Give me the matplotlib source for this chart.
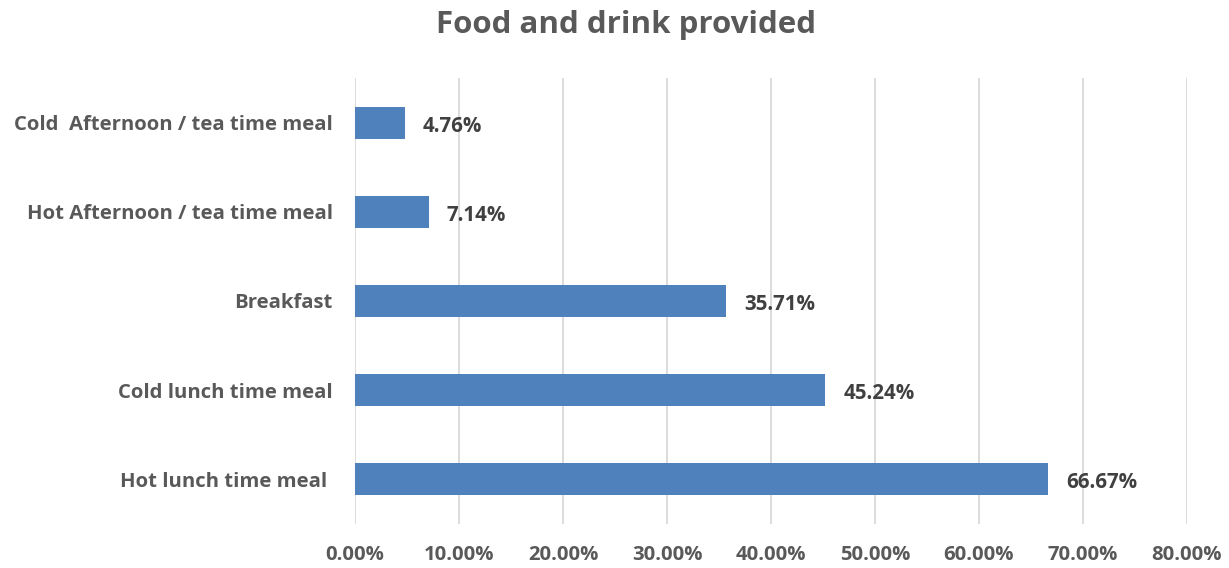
import matplotlib.pyplot as plt
from matplotlib.ticker import FuncFormatter

plt.rcParams['font.family'] = ['Open Sans', 'DejaVu Sans']
plt.rcParams['font.weight'] = 'bold'

# data (bottom to top, as drawn)
categories = ['Hot lunch time meal ', 'Cold lunch time meal', 'Breakfast',
              'Hot Afternoon / tea time meal', 'Cold  Afternoon / tea time meal']
values = [66.67, 45.24, 35.71, 7.14, 4.76]
xticks = [0, 10, 20, 30, 40, 50, 60, 70, 80]

txt = '#595959'
bar_col = '#4F81BD'
grid_col = '#D9D9D9'

fig = plt.figure(figsize=(12.29, 5.68), dpi=100)
ax = fig.add_axes([355 / 1229, 1 - 524 / 568, (1187 - 355) / 1229, (524 - 78) / 568])

ypos = range(len(categories))
ax.barh(ypos, values, height=0.36, color=bar_col, zorder=2)
for y, v in zip(ypos, values):
    ax.text(v + 1.7, y - 0.04, '%.2f%%' % v, va='center', ha='left',
            fontsize=14.8, fontweight='bold', color='#404040', zorder=3)

ax.set_xlim(0, 80)
ax.set_ylim(-0.5, len(categories) - 0.5)
ax.set_xticks(xticks)
ax.xaxis.set_major_formatter(FuncFormatter(lambda x, p: '%.2f%%' % x))
ax.set_yticks(list(ypos))
ax.set_yticklabels(categories)
ax.grid(True, axis='x', color=grid_col, linewidth=1.3, zorder=0)
ax.set_axisbelow(True)
for s in ax.spines.values():
    s.set_visible(False)
ax.tick_params(axis='both', length=0, labelsize=14.6, labelcolor=txt)
ax.tick_params(axis='x', pad=15)
ax.tick_params(axis='y', pad=16)
for lab in ax.get_xticklabels() + ax.get_yticklabels():
    lab.set_fontweight('bold')

fig.text(626 / 1229, 1 - 25 / 568, 'Food and drink provided', ha='center', va='center',
         fontsize=22.5, fontweight='bold', color=txt)

fig.savefig('out.png', dpi=100)
